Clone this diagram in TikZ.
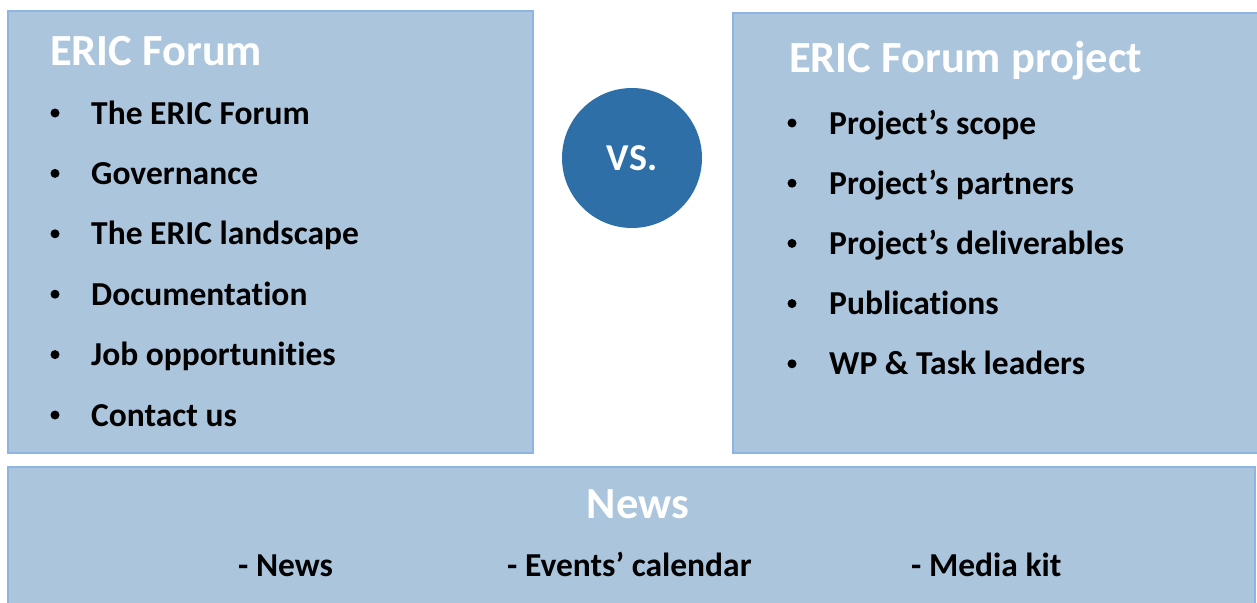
\documentclass[tikz,border=0pt]{standalone}
\usepackage{fontspec}
\setmainfont{Carlito}[Ligatures=NoCommon]
\usepackage{tikz}

\definecolor{boxfill}{HTML}{ABC5DD}
\definecolor{boxline}{HTML}{8EB4E3}
\definecolor{vsblue}{HTML}{2E6FA7}

\tikzset{
	panel/.style={fill=boxfill,draw=boxline,line width=2pt},
	heading/.style={anchor=base west,text=white,font=\fontsize{44.5}{52}\selectfont\bfseries,inner sep=0pt},
	entry/.style={anchor=base west,font=\fontsize{33.5}{40}\selectfont\bfseries,inner sep=0pt},
	dot/.style={circle,fill=black,inner sep=0pt,minimum size=9pt}
}

\begin{document}
\begin{tikzpicture}[x=1pt,y=-1pt]
\useasboundingbox (0,0) rectangle (1257,602);

\draw[panel] (8,11) rectangle (533,453);
\draw[panel] (733,13) rectangle (1262,453);
\draw[panel] (8,467) rectangle (1255,612);

\node[circle,fill=vsblue,minimum size=140pt,inner sep=0pt] (vs) at (632,158) {};
\node[text=white,font=\fontsize{38}{44}\selectfont\bfseries] at (vs) {VS.};

\node[heading] (lefthead) at (50,66) {ERIC Forum};
\node[heading] (righthead) at (789,72) {ERIC Forum project};

\foreach \t [count=\i] in {The ERIC Forum,Governance,The ERIC landscape,Documentation,Job opportunities,Contact us}{
	\node[dot] at (55,124+60.4*\i-60.4-11) {};
	\node[entry] (left\i) at (91,124+60.4*\i-60.4) {\t};
	}

\foreach \t [count=\i] in {Project’s scope,Project’s partners,Project’s deliverables,Publications,WP \& Task leaders}{
	\node[dot] at (792,134+60.2*\i-60.2-11) {};
	\node[entry] (right\i) at (829,134+60.2*\i-60.2) {\t};
	}

\node[anchor=base,text=white,font=\fontsize{44.5}{52}\selectfont\bfseries] (newshead) at (638,518) {News};
\node[entry] (news1) at (238,576) {- News};
\node[entry] (news2) at (507,576) {- Events’ calendar};
\node[entry] (news3) at (911,576) {- Media kit};
\end{tikzpicture}
\end{document}
